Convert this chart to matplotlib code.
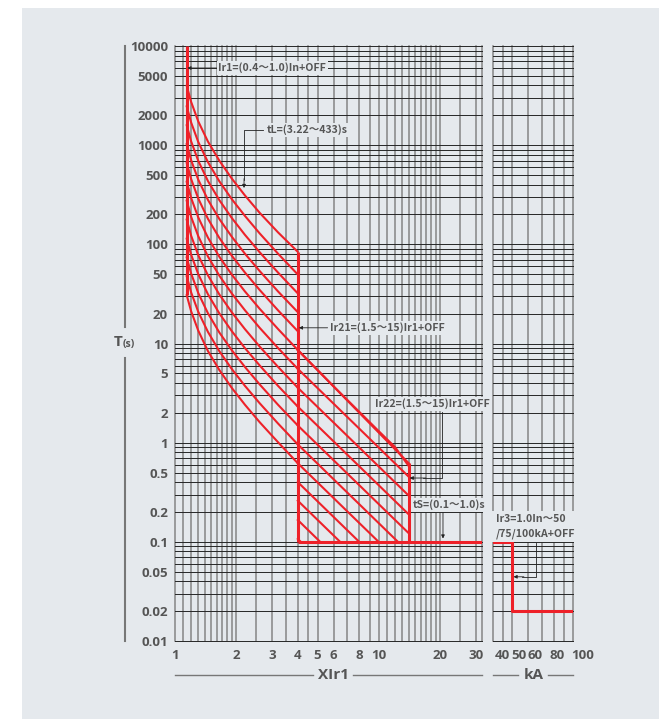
import matplotlib.pyplot as plt
import matplotlib.transforms as mtransforms
from matplotlib.lines import Line2D
from matplotlib.patches import Rectangle

# long-time curves: trip time (s) read at these multiples of Ir1
lt_x = [1.14, 1.2, 1.3, 1.45, 1.65, 1.9, 2.2, 2.6, 3.2, 4.0]
lt_t = [
    [31.0, 21.1, 13.5, 8.4, 5.4, 3.56, 2.42, 1.61, 1.01, 0.62],
    [48.1, 32.7, 20.9, 13.1, 8.36, 5.52, 3.75, 2.50, 1.56, 0.96],
    [74.4, 50.7, 32.3, 20.2, 12.9, 8.54, 5.81, 3.87, 2.41, 1.49],
    [115, 78.6, 50.1, 31.4, 20.1, 13.3, 9.01, 6.01, 3.74, 2.31],
    [179, 122, 77.8, 48.7, 31.2, 20.6, 14.0, 9.32, 5.81, 3.58],
    [278, 189, 121, 75.5, 48.3, 31.9, 21.7, 14.4, 9.0, 5.55],
    [431, 293, 187, 117, 74.9, 49.4, 33.6, 22.4, 14.0, 8.6],
    [668, 455, 290, 181, 116, 76.6, 52.1, 34.7, 21.6, 13.3],
    [1035, 705, 449, 281, 180, 119, 80.7, 53.8, 33.5, 20.7],
    [1602, 1091, 696, 435, 279, 184, 125, 83.3, 51.9, 32.0],
    [2483, 1691, 1078, 675, 432, 285, 194, 129, 80.5, 49.6],
    [4006, 2728, 1739, 1088, 697, 460, 312, 208, 132, 84.0],
]
# the curve that carries on through the short-time zone
tail_x = [4, 6, 8, 10, 12, 14]
tail_t = [8.6, 3.69, 2.05, 1.30, 0.90, 0.58]

# short-time hatch lines, from x=4 to their end
st_t4 = [0.107, 0.166, 0.26, 0.40, 0.62, 0.96, 1.49, 2.31, 3.58, 5.55, 8.6]
st_x_end = [4.14, 5.15, 6.45, 8.0, 9.96, 12.39, 14, 14, 14, 14, 14]
st_t_end = [0.1, 0.1, 0.1, 0.1, 0.1, 0.1, 0.122, 0.189, 0.292, 0.453, 0.62]

# setting lines
ir1_x, ir1_t = [1.14, 1.14], [10000, 31]
ir21_x, ir21_t = [4, 4], [84, 0.1]
ir22_x, ir22_t = [14, 14], [0.62, 0.1]
ts_x, ts_t = [4, 32], [0.1, 0.1]
inst_x = [40, 50, 50, 100]
inst_t = [0.1, 0.1, 0.02, 0.02]

# grid and ticks
grid_x_left = [1, 1.1, 1.2, 1.3, 1.4, 1.5, 1.6, 1.7, 1.8, 1.9, 2, 2.5, 3, 3.5, 4, 4.5,
               5, 6, 7, 8, 9, 10, 11, 12, 13, 14, 15, 16, 17, 18, 19, 20, 25, 30, 32]
grid_x_right = [40, 45, 50, 60, 70, 80, 90, 100]
grid_t = [k * 10.0 ** n for n in range(-2, 4) for k in range(1, 10)] + [10000]

y_ticks = [10000, 5000, 2000, 1000, 500, 200, 100, 50, 20, 10, 5, 2, 1,
           0.5, 0.2, 0.1, 0.05, 0.02, 0.01]
y_labels = ['10000', '5000', '2000', '1000', '500', '200', '100', '50', '20', '10',
            '5', '2', '1', '0.5', '0.2', '0.1', '0.05', '0.02', '0.01']
x_ticks_left = [1, 2, 3, 4, 5, 6, 8, 10, 20, 30]
x_ticks_right = [40, 50, 60, 80, 100]
right_label_shift = [9, 6, 7, 4, 10]   # px, labels sit right of their lines

BG = '#e5e9ed'
RED = '#ee2129'
TXT = '#555555'
W, H = 659, 719

fig = plt.figure(figsize=(W / 100, H / 100), dpi=100)
fig.patch.set_facecolor('white')
fig.add_artist(Rectangle((22 / W, 0), 1, 1 - 8 / H, transform=fig.transFigure,
                         facecolor=BG, edgecolor='none', zorder=-10))

bottom = 1 - 641 / H
height = (641 - 46) / H
ax1 = fig.add_axes([175 / W, bottom, (482 - 175) / W, height])
ax2 = fig.add_axes([493 / W, bottom, (573 - 493) / W, height])

for ax, gx, lim in [(ax1, grid_x_left, (1, 32)), (ax2, grid_x_right, (40, 100))]:
    ax.set_xscale('log')
    ax.set_yscale('log')
    ax.set_xlim(*lim)
    ax.set_ylim(0.01, 10000)
    ax.set_facecolor('none')
    for s in ax.spines.values():
        s.set_visible(False)
    for x in gx:
        ax.axvline(x, color='#858585', lw=1.1, zorder=1, clip_on=False)
    for t in grid_t:
        ax.axhline(t, color='#262626', lw=0.7, zorder=1.5, clip_on=False)
    ax.minorticks_off()
    ax.tick_params(length=0, labelcolor=TXT)

tick_font = dict(family='Open Sans', weight='bold', size=9.5)
ax1.set_yticks(y_ticks)
ax1.set_yticklabels(y_labels, **tick_font)
ax1.tick_params(axis='y', pad=5)
ax1.set_xticks(x_ticks_left)
ax1.set_xticklabels([str(v) for v in x_ticks_left], **tick_font)
ax1.tick_params(axis='x', pad=6)
ax2.set_yticks([])
ax2.set_xticks(x_ticks_right)
ax2.set_xticklabels([str(v) for v in x_ticks_right], **tick_font)
ax2.tick_params(axis='x', pad=6)
for lab, dx in zip(ax2.get_xticklabels(), right_label_shift):
    shift = mtransforms.ScaledTranslation(dx / 100, 0, fig.dpi_scale_trans)
    lab.set_transform(lab.get_transform() + shift)

# red curves
for row in lt_t:
    ax1.plot(lt_x, row, color=RED, lw=1.5, zorder=3, solid_capstyle='round')
ax1.plot(tail_x, tail_t, color=RED, lw=1.5, zorder=3)
for t4, xe, te in zip(st_t4, st_x_end, st_t_end):
    ax1.plot([4, xe], [t4, te], color=RED, lw=1.5, zorder=3)
for xs, ts in [(ir1_x, ir1_t), (ir21_x, ir21_t), (ir22_x, ir22_t), (ts_x, ts_t)]:
    ax1.plot(xs, ts, color=RED, lw=2.2, zorder=4, solid_capstyle='butt')
ax2.plot(inst_x, inst_t, color=RED, lw=2.2, zorder=4)

# annotations
note_font = dict(family=['Noto Sans CJK SC', 'DejaVu Sans'], weight='bold',
                 size=7.6, color=TXT)
box = dict(boxstyle='square,pad=0.15', fc=BG, ec='none')
arrow = dict(arrowstyle='-|>', color='#222222', lw=0.6, mutation_scale=5,
             shrinkA=0, shrinkB=0)
lk = dict(color='#222222', lw=0.6, zorder=5)

ax1.text(1.63, 6000, 'Ir1=(0.4～1.0)In+OFF', ha='left', va='center', bbox=box,
         zorder=6, **note_font)
ax1.annotate('', xy=(1.15, 6000), xytext=(1.6, 6000), arrowprops=arrow, zorder=5)

ax1.text(2.83, 1420, 'tL=(3.22～433)s', ha='left', va='center', bbox=box,
         zorder=6, **note_font)
ax1.plot([2.7, 2.18, 2.18], [1420, 1420, 450], **lk)
ax1.annotate('', xy=(2.18, 370), xytext=(2.18, 460), arrowprops=arrow, zorder=5)

ax1.text(5.75, 14.4, 'Ir21=(1.5～15)Ir1+OFF', ha='left', va='center', bbox=box,
         zorder=6, **note_font)
ax1.annotate('', xy=(4.05, 14.4), xytext=(5.6, 14.4), arrowprops=arrow, zorder=5)

ax1.text(9.56, 2.46, 'Ir22=(1.5～15)Ir1+OFF', ha='left', va='center', bbox=box,
         zorder=6, **note_font)
ax1.plot([20.3, 20.3, 16.5], [2.04, 0.44, 0.44], **lk)
ax1.annotate('', xy=(14.15, 0.44), xytext=(17, 0.44), arrowprops=arrow, zorder=5)

ax1.text(14.6, 0.236, 'tS=(0.1～1.0)s', ha='left', va='center', bbox=box,
         zorder=6, **note_font)
ax1.annotate('', xy=(20.6, 0.108), xytext=(20.6, 0.2), arrowprops=arrow, zorder=5)

ax2.text(41.2, 0.143, 'Ir3=1.0In～50\n/75/100kA+OFF', ha='left', va='center',
         linespacing=1.6, bbox=dict(boxstyle='square,pad=0.3', fc=BG, ec='none'),
         zorder=6, **note_font)
ax2.plot([65.5, 65.5, 56], [0.098, 0.0444, 0.0444], **lk)
ax2.annotate('', xy=(50.6, 0.0444), xytext=(57, 0.0444), arrowprops=arrow, zorder=5)

# axis titles drawn in figure pixels
def fx(px):
    return px / W


def fy(py):
    return 1 - py / H


line_col = '#777777'
for (x0, x1) in [(175, 313), (353, 482), (493, 518), (548, 573)]:
    fig.add_artist(Line2D([fx(x0), fx(x1)], [fy(675), fy(675)], color=line_col, lw=1.0))
for (y0, y1) in [(46, 327), (358, 641)]:
    fig.add_artist(Line2D([fx(125), fx(125)], [fy(y0), fy(y1)], color=line_col, lw=1.5))

title_font = dict(family='Open Sans', weight='bold', color=TXT)
fig.text(fx(333), fy(675), 'XIr1', ha='center', va='center', size=11, **title_font)
fig.text(fx(534), fy(675), 'kA', ha='center', va='center', size=11, **title_font)
fig.text(fx(123), fy(342), 'T', ha='right', va='center', size=11, **title_font)
fig.text(fx(123), fy(345), '(s)', ha='left', va='center', size=7.5, **title_font)

fig.savefig('out.png', dpi=100, facecolor=fig.get_facecolor())
